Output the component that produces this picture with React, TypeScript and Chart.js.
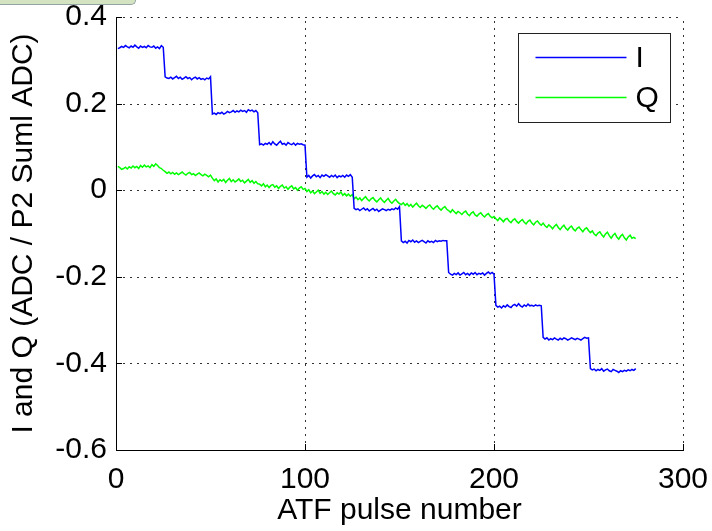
import React, { useEffect, useRef } from "react";
import { Chart, registerables } from "chart.js";

Chart.register(...registerables);

const X_TICKS = [0, 100, 200, 300];
const Y_TICKS = [-0.6, -0.4, -0.2, 0, 0.2, 0.4];
const SERIES_NAMES = ["I", "Q"];
const X_TITLE = "ATF pulse number";
const Y_TITLE = "I and Q (ADC / P2 Suml ADC)";

const I_VALUES = [
  0.327, 0.329, 0.332, 0.330, 0.334, 0.331, 0.329, 0.333, 0.330, 0.335, 0.331, 0.328, 0.333, 0.330, 0.332, 0.329, 0.334, 0.331, 0.330, 0.333, 0.328, 0.331, 0.327, 0.334, 0.330,
  0.262, 0.259, 0.258, 0.261, 0.257, 0.260, 0.263, 0.258, 0.261, 0.256, 0.259, 0.262, 0.258, 0.260, 0.255, 0.259, 0.261, 0.257, 0.260, 0.256, 0.258, 0.255, 0.259, 0.257, 0.262,
  0.176, 0.178, 0.175, 0.179, 0.177, 0.180, 0.176, 0.178, 0.182, 0.179, 0.181, 0.184, 0.180, 0.183, 0.181, 0.185, 0.182, 0.184, 0.180, 0.186, 0.183, 0.185, 0.181, 0.184, 0.179,
  0.105, 0.107, 0.104, 0.108, 0.106, 0.110, 0.105, 0.112, 0.107, 0.104, 0.109, 0.113, 0.106, 0.108, 0.104, 0.110, 0.107, 0.105, 0.109, 0.104, 0.108, 0.106, 0.107, 0.105, 0.104,
  0.030, 0.034, 0.028, 0.033, 0.036, 0.031, 0.034, 0.029, 0.035, 0.032, 0.036, 0.033, 0.030, 0.034, 0.031, 0.035, 0.029, 0.033, 0.031, 0.034, 0.030, 0.035, 0.032, 0.036, 0.030,
  -0.042, -0.045, -0.043, -0.047, -0.044, -0.041, -0.046, -0.043, -0.048, -0.045, -0.042, -0.047, -0.044, -0.049, -0.046, -0.043, -0.045, -0.047, -0.044, -0.046, -0.043, -0.045, -0.041, -0.044, -0.038,
  -0.117, -0.121, -0.118, -0.122, -0.116, -0.119, -0.115, -0.120, -0.117, -0.121, -0.118, -0.116, -0.119, -0.122, -0.117, -0.120, -0.118, -0.121, -0.116, -0.119, -0.117, -0.118, -0.116, -0.117, -0.117,
  -0.190, -0.194, -0.196, -0.192, -0.195, -0.191, -0.196, -0.193, -0.190, -0.195, -0.192, -0.196, -0.191, -0.194, -0.190, -0.195, -0.192, -0.194, -0.191, -0.196, -0.192, -0.189, -0.193, -0.190, -0.194,
  -0.266, -0.270, -0.268, -0.272, -0.267, -0.270, -0.265, -0.269, -0.271, -0.266, -0.264, -0.268, -0.262, -0.267, -0.270, -0.265, -0.268, -0.263, -0.267, -0.266, -0.268, -0.265, -0.267, -0.266, -0.267,
  -0.340, -0.344, -0.341, -0.346, -0.343, -0.345, -0.341, -0.344, -0.346, -0.342, -0.345, -0.341, -0.343, -0.346, -0.344, -0.341, -0.343, -0.345, -0.342, -0.344, -0.346, -0.343, -0.340, -0.342, -0.341,
  -0.412, -0.415, -0.413, -0.417, -0.414, -0.416, -0.412, -0.418, -0.415, -0.413, -0.417, -0.419, -0.414, -0.416, -0.418, -0.421, -0.417, -0.419, -0.416, -0.418, -0.415, -0.417, -0.414, -0.416, -0.412,
];

const Q_VALUES = [
  0.055, 0.052, 0.048, 0.050, 0.053, 0.049, 0.054, 0.051, 0.056, 0.052, 0.055, 0.050, 0.057, 0.053, 0.058, 0.054, 0.056, 0.052, 0.059, 0.055, 0.061, 0.057, 0.052, 0.050, 0.046,
  0.043, 0.039, 0.042, 0.038, 0.041, 0.037, 0.040, 0.036, 0.039, 0.042, 0.038, 0.035, 0.039, 0.041, 0.036, 0.038, 0.034, 0.037, 0.040, 0.036, 0.033, 0.037, 0.034, 0.031, 0.035,
  0.028, 0.022, 0.026, 0.019, 0.024, 0.021, 0.025, 0.018, 0.023, 0.027, 0.020, 0.024, 0.019, 0.022, 0.026, 0.020, 0.023, 0.017, 0.021, 0.025, 0.018, 0.022, 0.016, 0.020, 0.015,
  0.014, 0.010, 0.015, 0.008, 0.012, 0.006, 0.011, 0.013, 0.007, 0.010, 0.004, 0.009, 0.012, 0.005, 0.008, 0.002, 0.007, 0.010, 0.003, 0.006, 0.000, 0.005, 0.008, 0.002, 0.004,
  -0.003, 0.001, -0.006, -0.002, -0.008, -0.004, 0.000, -0.007, -0.003, -0.009, -0.005, -0.010, -0.006, -0.002, -0.008, -0.011, -0.006, -0.009, -0.004, -0.012, -0.008, -0.013, -0.009, -0.014, -0.010,
  -0.020, -0.016, -0.022, -0.018, -0.024, -0.019, -0.015, -0.021, -0.025, -0.020, -0.017, -0.023, -0.027, -0.022, -0.018, -0.024, -0.028, -0.023, -0.019, -0.026, -0.030, -0.025, -0.021, -0.027, -0.031,
  -0.033, -0.029, -0.035, -0.031, -0.037, -0.033, -0.039, -0.034, -0.030, -0.036, -0.040, -0.035, -0.038, -0.042, -0.037, -0.034, -0.040, -0.044, -0.039, -0.036, -0.042, -0.046, -0.041, -0.038, -0.044,
  -0.047, -0.051, -0.045, -0.050, -0.054, -0.049, -0.052, -0.056, -0.051, -0.048, -0.055, -0.059, -0.053, -0.050, -0.057, -0.060, -0.055, -0.052, -0.058, -0.062, -0.057, -0.054, -0.060, -0.064, -0.061,
  -0.066, -0.070, -0.064, -0.068, -0.073, -0.067, -0.065, -0.071, -0.075, -0.069, -0.066, -0.072, -0.076, -0.071, -0.068, -0.074, -0.078, -0.072, -0.069, -0.076, -0.080, -0.074, -0.071, -0.077, -0.081,
  -0.076, -0.082, -0.086, -0.080, -0.084, -0.089, -0.083, -0.079, -0.086, -0.091, -0.085, -0.081, -0.088, -0.092, -0.086, -0.083, -0.090, -0.094, -0.088, -0.085, -0.091, -0.096, -0.090, -0.087, -0.093,
  -0.098, -0.094, -0.101, -0.105, -0.099, -0.096, -0.103, -0.108, -0.101, -0.097, -0.105, -0.111, -0.104, -0.100, -0.108, -0.113, -0.106, -0.102, -0.110, -0.115, -0.108, -0.104, -0.111, -0.109, -0.112,
];

const PULSES = I_VALUES.map((_, i) => i + 1);

const FONT_FAMILY = '"Liberation Sans", Arial, Helvetica, sans-serif';
const COLORS = ["#0000ff", "#00ff00"];

const matlabGrid = {
  id: "matlabGrid",
  beforeDatasetsDraw(chart: any) {
    const { ctx, chartArea: a, scales } = chart;
    ctx.save();
    ctx.strokeStyle = "#333";
    ctx.lineWidth = 1;
    ctx.setLineDash([2, 5]);
    ctx.beginPath();
    for (const t of Y_TICKS.slice(1)) {
      const y = Math.round(scales.y.getPixelForValue(t)) + 0.5;
      ctx.moveTo(a.left, y);
      ctx.lineTo(a.right, y);
    }
    for (const t of X_TICKS.slice(1)) {
      const x = Math.round(scales.x.getPixelForValue(t)) + 0.5;
      ctx.moveTo(x, a.bottom);
      ctx.lineTo(x, a.top);
    }
    ctx.stroke();
    ctx.restore();
  },
};

const matlabDecor = {
  id: "matlabDecor",
  afterDraw(chart: any) {
    const { ctx, chartArea: a, scales } = chart;
    ctx.save();
    // inward tick marks
    ctx.strokeStyle = "#000";
    ctx.lineWidth = 1;
    ctx.beginPath();
    for (const t of Y_TICKS) {
      const y = Math.round(scales.y.getPixelForValue(t)) + 0.5;
      ctx.moveTo(a.left, y);
      ctx.lineTo(a.left + 6, y);
    }
    for (const t of X_TICKS) {
      const x = Math.round(scales.x.getPixelForValue(t)) + 0.5;
      ctx.moveTo(x, a.bottom);
      ctx.lineTo(x, a.bottom - 6);
    }
    ctx.stroke();

    // legend
    const bw = 152;
    const bh = 89;
    const bx = Math.round(a.right - 13 - bw) + 0.5;
    const by = Math.round(a.top + 16) + 0.5;
    ctx.fillStyle = "#ffffff";
    ctx.fillRect(bx, by, bw, bh);
    ctx.strokeStyle = "#222";
    ctx.lineWidth = 1;
    ctx.strokeRect(bx, by, bw, bh);
    const rows = [by + 24, by + 64];
    SERIES_NAMES.forEach((name, i) => {
      ctx.strokeStyle = COLORS[i];
      ctx.lineWidth = 1.5;
      ctx.beginPath();
      ctx.moveTo(bx + 17, rows[i]);
      ctx.lineTo(bx + 108, rows[i]);
      ctx.stroke();
      ctx.fillStyle = "#000";
      ctx.font = `30px ${FONT_FAMILY}`;
      ctx.textAlign = "left";
      ctx.textBaseline = "middle";
      ctx.fillText(name, bx + 117, rows[i] + 1);
    });
    ctx.restore();
  },
};

export default function App() {
  const canvasRef = useRef<HTMLCanvasElement | null>(null);

  useEffect(() => {
    document.body.style.margin = "0";
    const canvas = canvasRef.current;
    if (!canvas) return;
    const gridOpts: any = {
      display: true,
      drawOnChartArea: false,
      drawTicks: false,
    };
    const chart = new Chart(canvas, {
      type: "line",
      data: {
        datasets: SERIES_NAMES.map((name, i) => ({
          label: name,
          data: (i === 0 ? I_VALUES : Q_VALUES).map((v, k) => ({ x: PULSES[k], y: v })),
          borderColor: COLORS[i],
          backgroundColor: COLORS[i],
          borderWidth: 1.5,
          pointRadius: 0,
          tension: 0,
          fill: false,
        })),
      },
      options: {
        animation: false,
        responsive: false,
        devicePixelRatio: 1,
        layout: { padding: { left: 0, top: 17, right: 29, bottom: 0 } },
        plugins: {
          legend: { display: false },
          tooltip: { enabled: false },
        },
        scales: {
          x: {
            type: "linear",
            min: 0,
            max: 300,
            afterBuildTicks: (scale: any) => {
              scale.ticks = X_TICKS.map((v) => ({ value: v }));
            },
            afterFit: (scale: any) => {
              scale.height = 81;
              scale.paddingLeft = 0;
              scale.paddingRight = 0;
            },
            grid: gridOpts,
            border: { display: true, color: "#000", width: 1 },
            ticks: {
              color: "#000",
              padding: 12,
              maxRotation: 0,
              font: { family: FONT_FAMILY, size: 30 },
              callback: (v: any) => String(v),
            },
            title: {
              display: true,
              text: X_TITLE,
              color: "#000",
              font: { family: FONT_FAMILY, size: 30 },
              padding: { top: 0, bottom: 2 },
            },
          },
          y: {
            type: "linear",
            min: -0.6,
            max: 0.4,
            afterBuildTicks: (scale: any) => {
              scale.ticks = Y_TICKS.map((v) => ({ value: v }));
            },
            afterFit: (scale: any) => {
              scale.width = 116;
              scale.paddingTop = 0;
              scale.paddingBottom = 0;
            },
            grid: gridOpts,
            border: { display: true, color: "#000", width: 1 },
            ticks: {
              color: "#000",
              padding: 9,
              font: { family: FONT_FAMILY, size: 30 },
              callback: (v: any) => {
                const n = Math.round(Number(v) * 10) / 10;
                return n === 0 ? "0" : String(n);
              },
            },
            title: {
              display: true,
              text: Y_TITLE,
              color: "#000",
              font: { family: FONT_FAMILY, size: 30 },
              padding: { top: 6, bottom: 0 },
            },
          },
        },
      },
      plugins: [matlabGrid, matlabDecor],
    } as any);
    return () => chart.destroy();
  }, []);

  return (
    <div style={{ position: "relative", width: 712, height: 531, background: "#fff" }}>
      <canvas ref={canvasRef} width={712} height={531} style={{ display: "block" }} />
      <div
        style={{
          position: "absolute",
          left: 0,
          top: 0,
          width: 135,
          height: 4,
          background: "#d4e4c2",
          borderBottom: "1px solid #93a3a3",
          borderRight: "1px solid #93a3a3",
          borderBottomRightRadius: 6,
        }}
      />
    </div>
  );
}
